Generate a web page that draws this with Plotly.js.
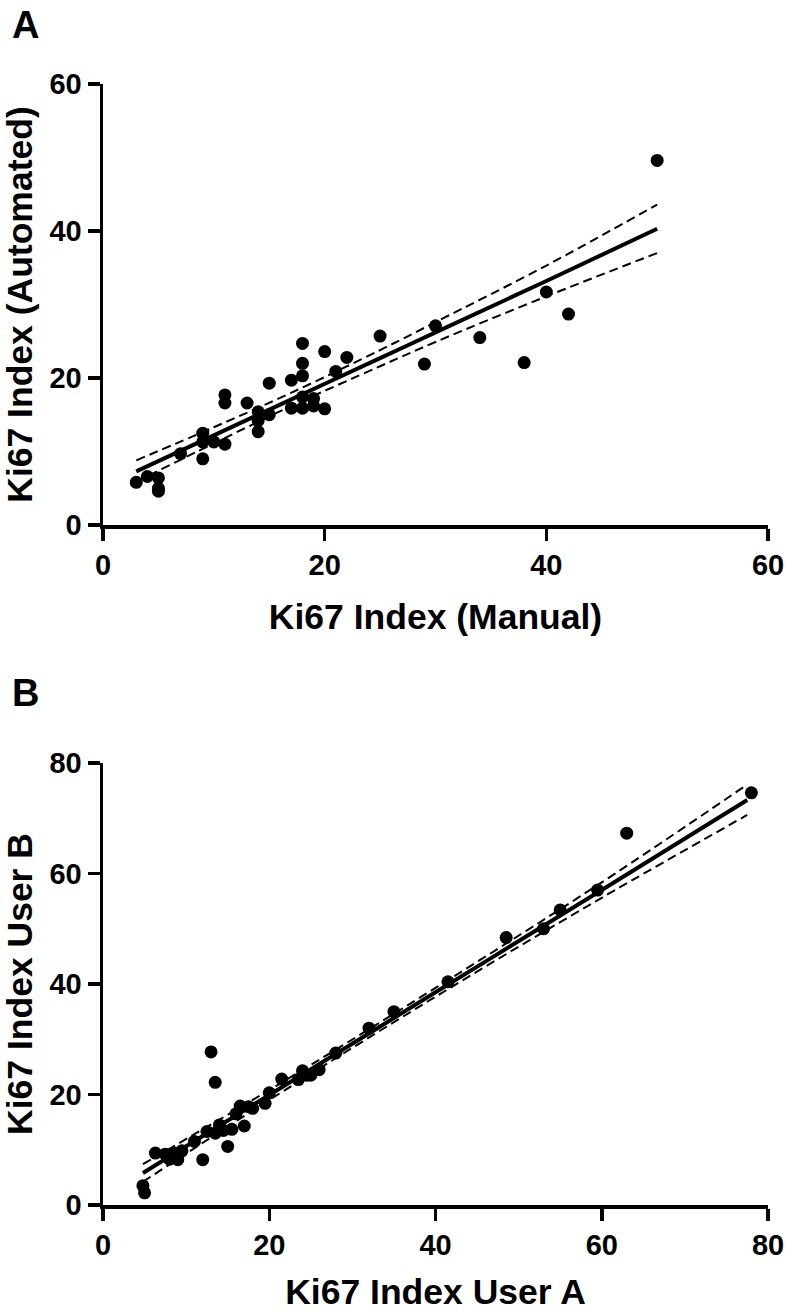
<!DOCTYPE html>
<html>
<head>
<meta charset="utf-8">
<script src="https://cdn.plot.ly/plotly-3.0.1.min.js"></script>
<style>html,body{margin:0;padding:0;background:#fff;}#chart{width:786px;height:1312px;}</style>
</head>
<body>
<div id="chart"></div>
<script>
// Panel A: Manual vs Automated Ki67 index
const manualA = [3, 4, 5, 5, 5, 7, 9, 9, 9, 10, 11, 11, 11, 13, 14, 14, 14, 15, 15, 17, 17, 18, 18, 18, 18, 18, 19, 19, 20, 20, 21, 22, 25, 29, 30, 34, 38, 40, 42, 50];
const automatedA = [5.8, 6.6, 6.4, 5.0, 4.6, 9.7, 12.5, 11.3, 9.0, 11.3, 11.0, 17.7, 16.6, 16.6, 15.4, 14.2, 12.7, 15.0, 19.3, 15.9, 19.7, 24.7, 22.0, 20.3, 15.9, 17.4, 17.2, 16.2, 15.8, 23.6, 20.9, 22.8, 25.7, 21.9, 27.1, 25.5, 22.1, 31.7, 28.7, 49.6];
// Regression line and 95% confidence band
const fitXA = [3, 10, 17, 25, 30, 40, 50];
const fitYA = [7.3, 12.2, 17.1, 22.7, 26.2, 33.2, 40.3];
const ciUpperA = [8.8, 13.3, 18.0, 23.8, 27.6, 35.3, 43.6];
const ciLowerA = [5.9, 11.1, 16.2, 21.6, 24.9, 31.1, 37.0];

// Panel B: User A vs User B
const userA = [4.8, 5, 6.3, 7.5, 8, 8.5, 9, 9.5, 11, 12, 12.5, 13, 13.5, 13.5, 14, 14.5, 15, 15.5, 16, 16.5, 17, 17.5, 18, 19.5, 20, 21.5, 23.5, 24, 24.5, 25, 26, 28, 32, 35, 41.5, 48.5, 53, 55, 59.5, 63, 78];
const userB = [3.5, 2.2, 9.4, 9.2, 8.3, 9.4, 8.2, 9.8, 11.5, 8.2, 13.3, 27.7, 22.2, 13.0, 14.5, 13.5, 10.6, 13.7, 16.5, 17.9, 14.3, 17.8, 17.5, 18.4, 20.3, 22.8, 22.7, 24.3, 23.5, 23.5, 24.5, 27.5, 32.0, 35.0, 40.4, 48.4, 50.0, 53.4, 57.0, 67.3, 74.6];
const fitXB = [4.8, 20, 40, 60, 77.5];
const fitYB = [5.8, 19.9, 38.5, 57.0, 73.3];
const ciUpperB = [7.4, 20.8, 39.3, 58.4, 76.1];
const ciLowerB = [4.2, 19.0, 37.7, 55.6, 70.6];

const FONT = 'Liberation Sans, Arial, Helvetica, sans-serif';
const W = 786, H = 1312;
const xDom = [103 / W, 768 / W];
const yDomA = [1 - 525 / H, 1 - 84 / H];
const yDomB = [1 - 1205 / H, 1 - 763 / H];

function pts(x, y, xa, ya) {
  return {x: x, y: y, xaxis: xa, yaxis: ya, type: 'scatter', mode: 'markers',
    marker: {color: '#000', size: 13}, hoverinfo: 'x+y', showlegend: false, cliponaxis: false};
}
function line(x, y, xa, ya, w, dash) {
  return {x: x, y: y, xaxis: xa, yaxis: ya, type: 'scatter', mode: 'lines',
    line: {color: '#000', width: w, dash: dash, shape: 'spline', smoothing: 1.0}, hoverinfo: 'skip', showlegend: false};
}

const data = [
  line(fitXA, ciUpperA, 'x', 'y', 2, '9px,5px'),
  line(fitXA, ciLowerA, 'x', 'y', 2, '9px,5px'),
  line(fitXA, fitYA, 'x', 'y', 4, 'solid'),
  pts(manualA, automatedA, 'x', 'y'),
  line(fitXB, ciUpperB, 'x2', 'y2', 2, '9px,5px'),
  line(fitXB, ciLowerB, 'x2', 'y2', 2, '9px,5px'),
  line(fitXB, fitYB, 'x2', 'y2', 4, 'solid'),
  pts(userA, userB, 'x2', 'y2')
];

function axis(dom, range, tickvals, anchor, title, standoff) {
  return {
    domain: dom, range: range, tickvals: tickvals, anchor: anchor,
    showline: true, linecolor: '#000', linewidth: 3.5,
    ticks: 'outside', ticklen: 12, tickwidth: 3.5, tickcolor: '#000',
    showgrid: false, zeroline: false, automargin: false,
    tickfont: {family: FONT, size: 29, color: '#000', weight: 'bold'},
    title: {text: title, standoff: standoff, font: {family: FONT, size: 35.5, color: '#000', weight: 'bold'}}
  };
}

const layout = {
  width: W, height: H,
  margin: {l: 0, r: 0, t: 0, b: 0},
  paper_bgcolor: '#fff', plot_bgcolor: '#fff',
  showlegend: false,
  xaxis: axis(xDom, [0, 60], [0, 20, 40, 60], 'y', 'Ki67 Index (Manual)', 25),
  yaxis: axis(yDomA, [0, 60], [0, 20, 40, 60], 'x', 'Ki67 Index (Automated)', 22),
  xaxis2: axis(xDom, [0, 80], [0, 20, 40, 60, 80], 'y2', 'Ki67 Index User A', 25),
  yaxis2: axis(yDomB, [0, 80], [0, 20, 40, 60, 80], 'x2', 'Ki67 Index User B', 22),
  annotations: [
    {text: 'A', xref: 'paper', yref: 'paper', x: 10 / W, y: 1 - 2 / H, xanchor: 'left', yanchor: 'top', showarrow: false,
     font: {family: FONT, size: 38, color: '#000', weight: 'bold'}},
    {text: 'B', xref: 'paper', yref: 'paper', x: 10 / W, y: 1 - 670 / H, xanchor: 'left', yanchor: 'top', showarrow: false,
     font: {family: FONT, size: 38, color: '#000', weight: 'bold'}}
  ]
};

Plotly.newPlot('chart', data, layout, {displayModeBar: false, staticPlot: true});
</script>
</body>
</html>
